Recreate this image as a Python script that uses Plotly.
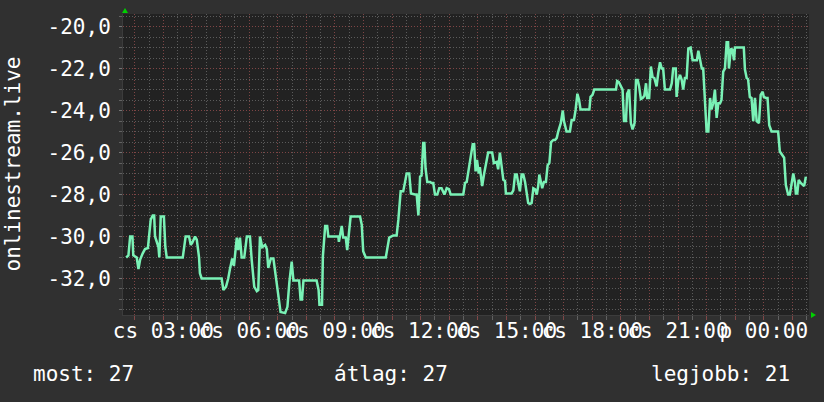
import plotly.graph_objects as go

# time in hours since Thursday 00:00 (24 = Friday 00:00)
hours = [
    1.70, 1.78, 1.84, 1.92, 1.95, 2.07, 2.13, 2.19, 2.28, 2.36, 2.46, 2.51, 2.56, 2.63, 2.68, 2.71,
    2.83, 2.86, 2.91, 3.02, 3.07, 3.12, 3.68, 3.72, 3.78, 3.90, 3.96, 4.01, 4.11, 4.17, 4.25, 4.28,
    4.34, 5.04, 5.10, 5.19, 5.27, 5.33, 5.41, 5.47, 5.57, 5.62, 5.68, 5.74, 5.83, 5.92, 6.03, 6.09,
    6.18, 6.27, 6.32, 6.38, 6.46, 6.56, 6.62, 6.67, 6.76, 6.85, 6.94, 7.02, 7.10, 7.26, 7.34, 7.41,
    7.49, 7.55, 7.75, 7.80, 7.85, 7.90, 8.36, 8.43, 8.46, 8.55, 8.58, 8.66, 8.73, 8.77, 9.12, 9.14,
    9.24, 9.29, 9.38, 9.43, 9.49, 9.55, 9.88, 9.94, 9.99, 10.08, 10.78, 10.83, 10.90, 11.04, 11.16, 11.22,
    11.30, 11.39, 11.45, 11.51, 11.60, 11.66, 11.80, 11.86, 11.92, 11.98, 12.03, 12.09, 12.13, 12.17, 12.23, 12.33,
    12.38, 12.44, 12.50, 12.58, 12.65, 12.73, 12.83, 12.91, 12.99, 13.05, 13.49, 13.55, 13.61, 13.66, 13.72, 13.78,
    13.82, 13.87, 13.92, 13.97, 14.03, 14.07, 14.15, 14.22, 14.31, 14.36, 14.50, 14.56, 14.66, 14.71, 14.77, 14.83,
    14.89, 14.95, 14.98, 15.18, 15.24, 15.30, 15.36, 15.41, 15.47, 15.53, 15.59, 15.65, 15.71, 15.76, 15.82, 15.88,
    15.94, 16.00, 16.06, 16.11, 16.15, 16.20, 16.25, 16.31, 16.38, 16.44, 16.50, 16.56, 16.64, 16.70, 16.76, 16.81,
    16.90, 16.97, 17.01, 17.10, 17.22, 17.28, 17.36, 17.42, 17.48, 17.54, 17.59, 17.90, 17.94, 18.01, 18.07, 18.83,
    18.87, 18.93, 18.99, 19.06, 19.11, 19.18, 19.22, 19.29, 19.35, 19.41, 19.48, 19.53, 19.59, 19.64, 19.70, 19.76,
    19.82, 19.88, 19.92, 19.99, 20.05, 20.11, 20.17, 20.25, 20.31, 20.37, 20.43, 20.48, 20.54, 20.72, 20.78, 20.83,
    20.92, 20.95, 21.01, 21.07, 21.13, 21.18, 21.24, 21.30, 21.36, 21.44, 21.51, 21.59, 21.66, 21.71, 21.77, 21.83,
    21.88, 21.94, 22.00, 22.06, 22.12, 22.17, 22.23, 22.29, 22.35, 22.41, 22.47, 22.52, 22.58, 22.64, 22.70, 22.75,
    22.78, 22.85, 22.90, 22.96, 22.99, 23.30, 23.34, 23.40, 23.45, 23.51, 23.57, 23.63, 23.69, 23.75, 23.83, 23.89,
    23.96, 24.00, 24.07, 24.13, 24.19, 24.27, 24.50, 24.56, 24.64, 24.71, 24.77, 24.85, 24.91, 24.97, 25.03, 25.09,
    25.12, 25.17, 25.22, 25.29, 25.36, 25.41, 25.47,
]

values = [
    -31.0, -30.9, -30.0, -30.0, -30.9, -31.0, -31.55, -31.1, -30.8, -30.6, -30.55, -30.0, -29.2, -29.0, -29.0, -30.0,
    -30.5, -31.0, -29.05, -29.05, -30.5, -31.0, -31.0, -30.6, -30.0, -30.0, -30.4, -30.3, -30.0, -30.15, -31.0, -31.75,
    -32.0, -32.0, -32.55, -32.4, -32.0, -31.55, -31.05, -31.4, -30.05, -30.65, -30.05, -31.0, -31.0, -30.0, -30.0, -31.1,
    -32.4, -32.6, -32.55, -30.0, -30.5, -30.4, -30.6, -31.5, -31.05, -31.05, -32.0, -32.7, -33.6, -33.65, -33.35, -32.15,
    -31.2, -32.1, -32.1, -33.0, -33.0, -32.1, -32.1, -32.55, -33.25, -33.25, -30.95, -29.5, -29.5, -30.0, -30.0, -30.25,
    -29.5, -30.05, -30.05, -30.65, -29.95, -29.05, -29.05, -29.45, -30.7, -31.0, -31.0, -30.5, -30.05, -29.95, -29.95, -29.2,
    -27.85, -27.85, -27.45, -27.0, -27.0, -27.95, -28.0, -28.0, -29.0, -27.15, -27.1, -25.55, -25.55, -26.75, -27.4, -27.4,
    -27.45, -27.45, -28.0, -28.0, -27.7, -27.7, -28.0, -27.7, -27.75, -28.0, -28.0, -27.45, -27.4, -27.0, -26.5, -26.05,
    -25.6, -25.6, -26.9, -26.35, -27.0, -26.7, -27.6, -27.0, -26.45, -26.0, -26.0, -26.5, -26.45, -26.8, -26.0, -26.8,
    -27.3, -27.35, -27.95, -27.95, -27.8, -27.05, -27.05, -27.45, -27.85, -27.05, -27.05, -27.4, -28.1, -28.4, -28.45, -28.4,
    -27.7, -27.75, -28.0, -27.6, -27.05, -27.4, -27.7, -27.4, -27.4, -26.6, -26.5, -25.5, -25.4, -25.4, -25.3, -25.0,
    -24.6, -24.0, -24.5, -25.0, -25.0, -24.45, -24.45, -23.95, -23.2, -23.5, -23.95, -23.95, -23.35, -23.25, -23.0, -23.0,
    -22.6, -22.65, -22.8, -23.0, -24.5, -24.5, -23.2, -23.0, -24.6, -24.9, -24.6, -22.55, -22.55, -22.85, -23.45, -23.4,
    -23.3, -22.7, -23.4, -23.4, -21.9, -22.4, -22.45, -22.85, -22.2, -21.7, -22.0, -22.0, -23.0, -23.0, -22.7, -22.0,
    -22.0, -23.35, -22.55, -22.3, -22.55, -23.0, -22.45, -22.45, -21.05, -21.0, -21.6, -21.6, -21.6, -21.15, -21.5, -22.0,
    -22.0, -23.25, -25.0, -25.0, -23.4, -23.95, -23.65, -23.0, -24.35, -23.65, -23.65, -23.5, -22.15, -22.0, -20.75, -20.75,
    -22.0, -21.05, -21.1, -21.6, -21.0, -21.0, -22.05, -22.45, -22.5, -23.35, -23.4, -24.5, -23.4, -24.5, -24.6, -23.25,
    -23.1, -23.35, -23.4, -23.4, -24.7, -25.0, -25.0, -25.95, -26.1, -26.25, -27.55, -28.0, -28.0, -27.45, -27.0, -27.45,
    -27.95, -27.95, -27.3, -27.45, -27.55, -27.6, -27.15,
]

x_label_hours = [3, 6, 9, 12, 15, 18, 21, 24]
x_label_texts = ["cs 03:00", "cs 06:00", "cs 09:00", "cs 12:00", "cs 15:00", "cs 18:00", "cs 21:00", "p 00:00"]
x_grid_hours = list(range(2, 26))

y_tick_values = [-20, -22, -24, -26, -28, -30, -32]
y_tick_labels = ["-20,0", "-22,0", "-24,0", "-26,0", "-28,0", "-30,0", "-32,0"]

y_title = "onlinestream.live"
legend_texts = ["most: 27", "átlag: 27", "legjobb: 21"]

FONT = "DejaVu Sans Mono"
BG = "#303030"
PLOT_BG = "#222222"
MAJOR = "rgba(150,55,55,0.6)"
MINOR = "rgba(130,130,130,0.6)"
LINE = "#7AF2B6"
ARROW = "#00D000"

W, H = 824, 402
L, R, T, B = 123, 15, 14, 87
PW, PH = W - L - R, H - T - B


def px(xp):
    return (xp - L) / PW


def py(yp):
    return (H - B - yp) / PH


tick_text = [x_label_texts[x_label_hours.index(h)] if h in x_label_hours else "" for h in x_grid_hours]

fig = go.Figure()
fig.add_trace(go.Scatter(x=hours, y=values, mode="lines",
                         line=dict(color=LINE, width=2.5), hoverinfo="skip"))

fig.update_layout(
    width=W, height=H,
    margin=dict(l=L, r=R, t=T, b=B, pad=0),
    paper_bgcolor=BG, plot_bgcolor=PLOT_BG,
    showlegend=False,
    font=dict(family=FONT, size=21, color="white"),
)

fig.update_xaxes(
    range=[1.59, 25.58],
    tickmode="array", tickvals=x_grid_hours, ticktext=tick_text,
    tickangle=0, ticklabeloverflow="allow",
    ticks="outside", ticklen=4, tickcolor=MAJOR, tickwidth=1,
    tickfont=dict(family=FONT, size=21, color="white"),
    ticklabelstandoff=-7,
    showgrid=True, gridcolor=MAJOR, griddash="1px,2px", gridwidth=1,
    minor=dict(dtick=0.5, tick0=0, showgrid=True, gridcolor=MINOR, griddash="1px,2px",
               ticks="outside", ticklen=4, tickcolor=MINOR),
    showline=True, linecolor="#3c3c3c", linewidth=1,
    zeroline=False, fixedrange=True,
)

fig.update_yaxes(
    range=[-33.74, -19.40],
    tickmode="array", tickvals=y_tick_values, ticktext=y_tick_labels,
    ticks="outside", ticklen=3, tickcolor=MINOR,
    tickfont=dict(family=FONT, size=21, color="white"),
    ticklabelstandoff=4,
    showgrid=True, gridcolor=MAJOR, griddash="1px,2px", gridwidth=1,
    minor=dict(dtick=0.5, tick0=0, showgrid=True, gridcolor=MINOR, griddash="1px,2px",
               ticks="outside", ticklen=3, tickcolor=MINOR),
    showline=True, linecolor="#3c3c3c", linewidth=1,
    zeroline=False, fixedrange=True,
)

annotations = [
    dict(text=y_title, textangle=-90, xref="paper", yref="paper", x=px(12), y=0.5,
         xanchor="center", yanchor="middle", showarrow=False,
         font=dict(family=FONT, size=21, color="white")),
    dict(text=legend_texts[0], xref="paper", yref="paper", x=px(31), y=py(374),
         xanchor="left", yanchor="middle", showarrow=False,
         font=dict(family=FONT, size=21, color="white")),
    dict(text=legend_texts[1], xref="paper", yref="paper", x=px(332), y=py(374),
         xanchor="left", yanchor="middle", showarrow=False,
         font=dict(family=FONT, size=21, color="white")),
    dict(text=legend_texts[2], xref="paper", yref="paper", x=px(792), y=py(374),
         xanchor="right", yanchor="middle", showarrow=False,
         font=dict(family=FONT, size=21, color="white")),
]
fig.update_layout(annotations=annotations)

# axis arrows (decoration)
up = "M {} {} L {} {} L {} {} Z".format(px(122), py(13), px(128), py(13), px(125), py(8))
right = "M {} {} L {} {} L {} {} Z".format(px(811), py(312), px(811), py(318), px(816), py(315))
fig.add_shape(type="path", path=up, xref="paper", yref="paper", fillcolor=ARROW, line=dict(width=0))
fig.add_shape(type="path", path=right, xref="paper", yref="paper", fillcolor=ARROW, line=dict(width=0))

fig.write_html("out.html", config={"displayModeBar": False},
               post_script="document.body.style.margin='0px';")
